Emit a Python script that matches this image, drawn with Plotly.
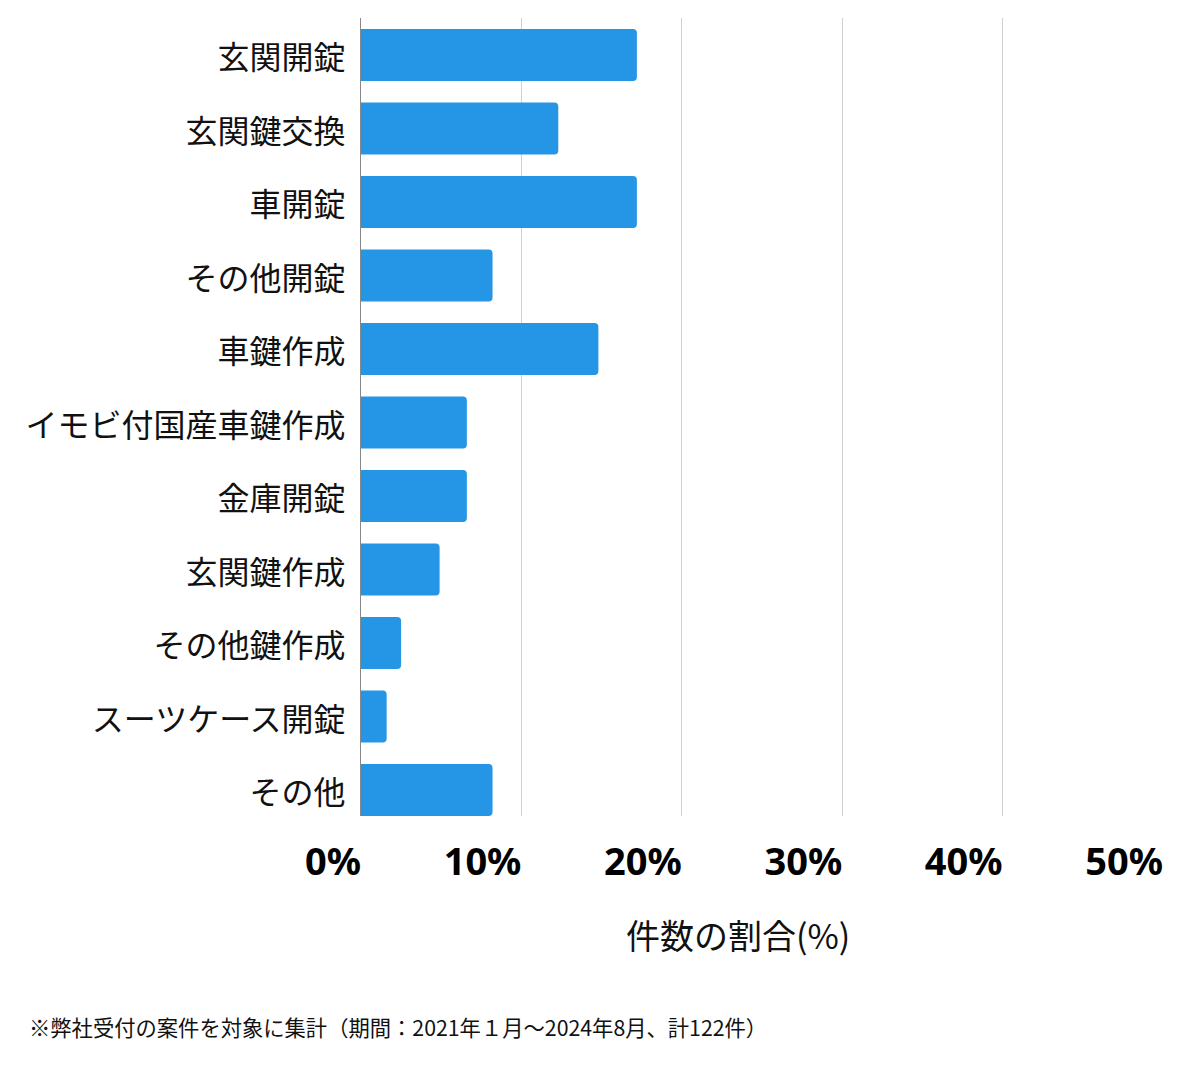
import plotly.graph_objects as go

categories = ["玄関開錠", "玄関鍵交換", "車開錠", "その他開錠", "車鍵作成",
              "イモビ付国産車鍵作成", "金庫開錠", "玄関鍵作成", "その他鍵作成",
              "スーツケース開錠", "その他"]
percent = [17.2, 12.3, 17.2, 8.2, 14.8, 6.6, 6.6, 4.9, 2.5, 1.6, 8.2]
tick_vals = [0, 10, 20, 30, 40, 50]
tick_text = ["0%", "10%", "20%", "30%", "40%", "50%"]
x_title = "件数の割合(%)"
footnote = "※弊社受付の案件を対象に集計（期間：2021年１月～2024年8月、計122件）"

JP = "Noto Sans CJK JP"

# page body has an 8px margin; plot area targeted at screen x 361..1163, y 18..816
L, R, T, B = 353, 45, 10, 261
PW, PH = 1200 - L - R, 1069 - T - B

fig = go.Figure(go.Bar(
    x=percent, y=categories, orientation="h",
    marker=dict(color="#2595E6", line=dict(width=0)),
    hoverinfo="skip",
))

fig.update_layout(
    width=1200, height=1069,
    margin=dict(l=L, r=R, t=T, b=B, autoexpand=False),
    paper_bgcolor="white", plot_bgcolor="white",
    bargap=0.293,
    barcornerradius=4,
    showlegend=False,
    font=dict(family=JP, color="#111"),
)

fig.update_xaxes(
    range=[0, 50], tickvals=tick_vals, ticktext=tick_text,
    ticklabelposition="outside left",
    tickfont=dict(family="Noto Sans", size=38, weight="bold", color="#000"),
    showgrid=True, gridcolor="#d0d0d0", gridwidth=1,
    zeroline=False, showline=False,
    ticks="", ticklabelstandoff=20,
    fixedrange=True,
)
fig.update_yaxes(
    categoryorder="array", categoryarray=categories,
    range=[len(categories) - 1 + 0.354, -0.503], autorange=False,
    tickfont=dict(family=JP, size=32, color="#111"),
    showline=True, linecolor="#888", linewidth=1,
    showgrid=False, zeroline=False,
    ticks="", ticklabelstandoff=8, ticklabelshift=-3,
    fixedrange=True,
)

fig.add_annotation(
    text=x_title, xref="paper", yref="paper",
    x=(738 - 361) / PW, y=-(934 - 816) / PH,
    xanchor="center", yanchor="middle", showarrow=False,
    font=dict(family=JP, size=34, color="#111"),
)
fig.add_annotation(
    text=footnote, xref="paper", yref="paper",
    x=-(361 - 27) / PW, y=-(1027 - 816) / PH,
    xanchor="left", yanchor="middle", showarrow=False,
    font=dict(family=JP, size=21.3, color="#111"),
)

fig.write_html("out.html")
